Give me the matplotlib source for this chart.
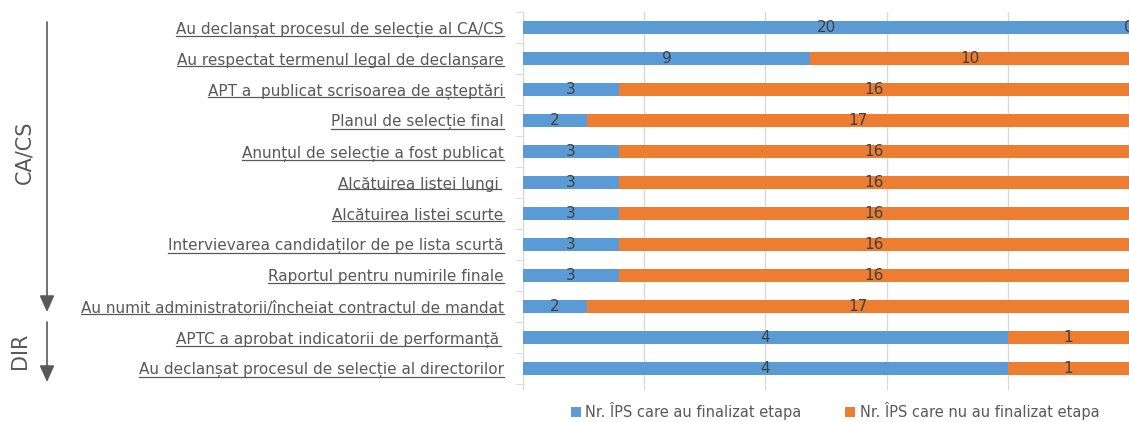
import matplotlib
matplotlib.use("Agg")
import matplotlib.pyplot as plt
from matplotlib.lines import Line2D
from matplotlib.patches import FancyArrowPatch
import numpy as np

categories = [
    "Au declanșat procesul de selecție al CA/CS",
    "Au respectat termenul legal de declanșare",
    "APT a  publicat scrisoarea de așteptări",
    "Planul de selecție final",
    "Anunțul de selecție a fost publicat",
    "Alcătuirea listei lungi ",
    "Alcătuirea listei scurte",
    "Intervievarea candidaților de pe lista scurtă",
    "Raportul pentru numirile finale",
    "Au numit administratorii/încheiat contractul de mandat",
    "APTC a aprobat indicatorii de performanță ",
    "Au declanșat procesul de selecție al directorilor",
]
finalizat = [20, 9, 3, 2, 3, 3, 3, 3, 3, 2, 4, 4]
nefinalizat = [0, 10, 16, 17, 16, 16, 16, 16, 16, 17, 1, 1]
series_names = ["Nr. ÎPS care au finalizat etapa", "Nr. ÎPS care nu au finalizat etapa"]

BLUE = "#5B9BD5"
ORANGE = "#ED7D31"
GRAY = "#595959"
GRID = "#D9D9D9"
FONT = ["Liberation Sans Narrow", "DejaVu Sans"]
plt.rcParams['font.family'] = FONT

W, H = 1129, 422
fig = plt.figure(figsize=(W / 100, H / 100), dpi=100)
ax = fig.add_axes([523 / W, 1 - 384 / H, (W - 523) / W, (384 - 12) / H])

fin = np.array(finalizat, dtype=float)
nef = np.array(nefinalizat, dtype=float)
tot = fin + nef
p1 = fin / tot
p2 = nef / tot
y = np.arange(len(categories))

b1 = ax.barh(y, p1, height=0.42, color=BLUE, label=series_names[0], zorder=3)
b2 = ax.barh(y, p2, left=p1, height=0.42, color=ORANGE, label=series_names[1], zorder=3)
ax.bar_label(b1, labels=[str(v) for v in finalizat], label_type="center",
             fontsize=11, color="#404040", zorder=4)
ax.bar_label(b2, labels=[str(v) for v in nefinalizat], label_type="center",
             fontsize=11, color="#404040", zorder=4)

ax.set_xlim(0, 1)
ax.set_ylim(len(categories) - 0.5, -0.5)
ax.set_xticks([0, 0.2, 0.4, 0.6, 0.8, 1.0])
ax.set_xticklabels([])
ax.tick_params(axis="x", length=4, color=GRID, direction="out")
ax.grid(axis="x", color=GRID, linewidth=1, zorder=0)
ax.set_yticks(y)
ax.set_yticklabels(categories, fontsize=11, color=GRAY)
ax.set_yticks(np.arange(-0.5, len(categories), 1), minor=True)
ax.tick_params(axis="y", which="major", length=0, pad=14)
ax.tick_params(axis="y", which="minor", length=6, color=GRID)
for s in ["top", "right", "bottom"]:
    ax.spines[s].set_visible(False)
ax.spines["left"].set_color(GRID)

leg = fig.legend(loc="center", bbox_to_anchor=(835 / W, 1 - 411 / H), ncol=2,
                 frameon=False, fontsize=10.5, handlelength=0.7, handleheight=0.7,
                 columnspacing=3.0, handletextpad=0.3)
for t in leg.get_texts():
    t.set_color(GRAY)

# group annotations
fig.text(24 / W, 1 - 152 / H, "CA/CS", rotation=90, ha="center", va="center",
         fontsize=15, color=GRAY)
fig.text(20 / W, 1 - 351 / H, "DIR", rotation=90, ha="center", va="center",
         fontsize=15, color=GRAY)
style = "-|>,head_width=0.45,head_length=1.0"
for (ya, yb) in [(22, 312), (322, 382)]:
    fig.add_artist(FancyArrowPatch((47 / W, 1 - ya / H), (47 / W, 1 - yb / H),
                                   transform=fig.transFigure, arrowstyle=style,
                                   mutation_scale=10, color=GRAY, lw=1.2,
                                   shrinkA=0, shrinkB=0))

# underline category labels
fig.canvas.draw()
r = fig.canvas.get_renderer()
for lab in ax.get_yticklabels():
    bb = lab.get_window_extent(r)
    txt = lab.get_text()
    x1 = bb.x1
    if txt.endswith(" "):
        x1 = bb.x1 - 3
    yy = bb.y0 + 2.0
    fig.add_artist(Line2D([bb.x0 / W, x1 / W], [yy / H, yy / H], transform=fig.transFigure,
                          color=GRAY, lw=0.9))

fig.savefig("out.png", dpi=100)
